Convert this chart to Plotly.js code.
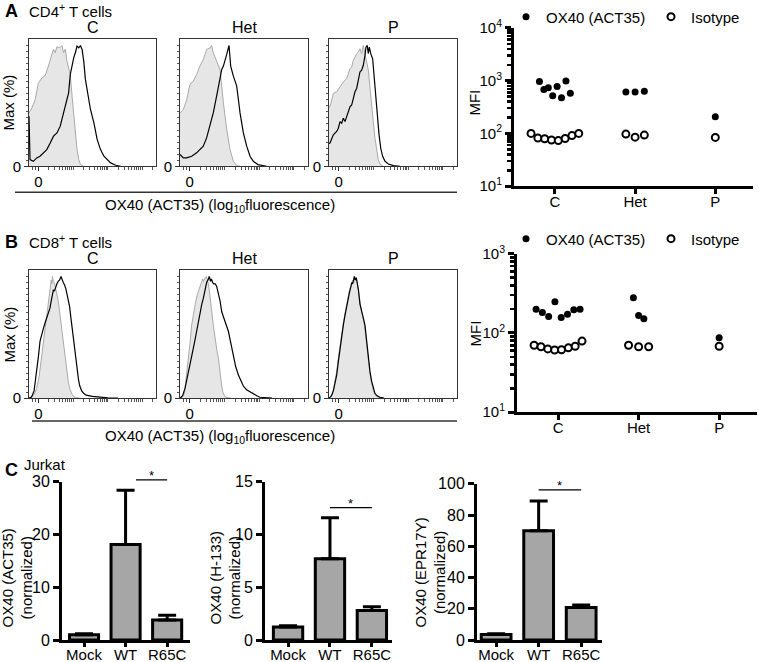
<!DOCTYPE html>
<html>
<head>
<meta charset="utf-8">
<script src="https://cdn.plot.ly/plotly-3.0.1.min.js"></script>
<style>
  body { margin: 0; background: #fff; }
  #chart { width: 759px; height: 662px; }
</style>
</head>
<body>
<div id="chart"></div>
<script>
// ---- flow histograms: x = position along the display axis (0-100), y = % of max ----
// CD4+ T cells
const cd4C_isoX = [0, 2.1, 4.8, 7.4, 10.1, 12.7, 15.3, 18, 19.3, 20.6, 22, 24, 25.9, 27.2, 28.6, 29.9, 31.2, 32.5, 33.9, 35.2, 36.5, 37.8, 39.2, 40.5, 43.1];
const cd4C_isoY = [44, 48, 55, 69, 73, 75, 83, 94, 97, 94, 99, 98, 100, 94, 97, 87, 81, 76, 58, 44, 28, 14, 5.5, 1.4, 0];
const cd4C_oxX = [0, 0.8, 3.4, 6.1, 8.7, 11.4, 14.0, 16.7, 18.0, 19.3, 22.0, 24.6, 27.2, 29.9, 31.2, 32.5, 33.9, 35.2, 36.5, 37.8, 39.2, 40.5, 41.8, 43.1, 44.4, 45.8, 47.1, 48.4, 51.1, 53.7, 56.3, 59, 64.3, 68.3, 72.2];
const cd4C_oxY = [41.5, 5.5, 4.1, 6.9, 8.3, 11.1, 13.8, 19.3, 22.1, 24.9, 27.6, 33.2, 44.2, 55.3, 60.8, 76, 84.3, 89.8, 94, 99.5, 98.1, 100, 96.7, 87, 71.9, 63.6, 55.3, 47, 35.9, 22.1, 13.8, 8.3, 2.8, 0.8, 0];

const cd4Het_isoX = [0, 2.6, 5.2, 7.8, 10.4, 13, 15.6, 18.2, 20.8, 23.4, 24.7, 26, 28.6, 31.3, 33.9, 36.5, 39.1, 41.7, 44.3, 46.9];
const cd4Het_isoY = [44, 47, 55, 68, 70.5, 76, 83, 88.5, 96.7, 98, 100, 94, 87, 80, 52.5, 30.4, 13.8, 4.1, 0.6, 0];
const cd4Het_oxX = [0, 2.6, 5.2, 9.1, 13, 15.6, 18.2, 20.8, 23.4, 26, 28.6, 31.3, 32.6, 33.9, 35.2, 36.5, 38.3, 39.6, 41.7, 43, 44.3, 45.6, 46.9, 49.5, 52.1, 54.7, 57.3, 60.9, 67.7];
const cd4Het_oxY = [9.7, 6.9, 6.9, 8.3, 11.1, 13.8, 16.6, 23.5, 33.2, 44.2, 58, 71.9, 80.2, 82.9, 87, 92.6, 100, 82.9, 74.6, 70.5, 66.3, 55.3, 44.2, 27.6, 16.6, 8.3, 4.1, 1.4, 0];

const cd4P_isoX = [0, 0.8, 3.4, 6, 8.6, 11.2, 13.8, 16.4, 17.7, 19, 21.6, 22.9, 24.2, 25.5, 26.8, 28.1, 29.4, 30.7, 32, 33.3, 34.6, 35.9, 37.2, 38.5, 39.8, 42.4];
const cd4P_isoY = [49, 49.3, 60.3, 61.7, 65.8, 69.9, 72.6, 80.8, 82.2, 87.7, 93.2, 94.5, 97.3, 93.2, 100, 91.8, 86.3, 79.5, 67.1, 53.4, 37, 23.3, 12.3, 5.5, 1.9, 0];
const cd4P_oxX = [0, 0.8, 3.4, 6, 7.3, 8.6, 9.9, 11.2, 12.5, 13.8, 15.1, 16.4, 17.7, 19, 20.3, 21.6, 22.9, 24.2, 25.5, 26.8, 28.1, 28.9, 29.9, 30.7, 31.5, 32.6, 34.1, 35.2, 36.5, 37.8, 39.1, 40.4, 41.9, 43.8, 46.4, 50.3, 55.5];
const cd4P_oxY = [19, 19.2, 26, 28.8, 31.5, 37, 35.6, 39.7, 37, 41.1, 45.2, 49.3, 50.7, 57.5, 61.7, 64.4, 71.2, 78.1, 79.5, 83.6, 91.8, 98.6, 100, 93.2, 98.6, 93.2, 89, 75.4, 56.2, 39.7, 26, 15.1, 8.2, 4.1, 1.9, 0.5, 0];

// CD8+ T cells
const cd8C_isoX = [0, 2, 4, 6, 8, 10, 11, 12, 13, 14, 15, 16, 17, 17.5, 18, 18.5, 19, 20, 21, 22, 23, 24, 25, 26, 27, 28, 29, 30, 31, 32, 33, 34, 35, 37, 40];
const cd8C_isoY = [0, 1, 3, 8, 18, 35, 45, 55, 63, 72, 80, 88, 93, 97, 94, 100, 96, 95, 90, 86, 80, 72, 63, 55, 47, 38, 28, 20, 13, 8, 5, 3, 1.5, 0.5, 0];
const cd8C_oxX = [0, 2, 4, 4.7, 6, 7.5, 8.7, 10, 11.5, 13, 14, 15.5, 16.5, 17.5, 18.5, 19.2, 20, 21, 22, 23, 24, 25.2, 26, 27, 28, 29, 30, 31, 32, 33, 34, 35, 36, 37, 38, 39, 40, 41.5, 43, 45, 50, 56, 62, 70];
const cd8C_oxY = [0, 1, 6, 11, 22, 35, 47, 53, 58, 63, 66, 71, 74, 80, 86, 89, 88, 92, 94, 96, 97, 100, 97, 95, 93, 90, 85, 80, 75, 66, 57, 48, 39, 31, 23, 15, 10, 6, 4, 2.5, 1.5, 0.8, 0.3, 0];

const cd8Het_isoX = [0, 2, 3.5, 5.2, 6.5, 7.8, 9.1, 10.5, 12, 13.5, 15, 16, 17, 17.7, 18.5, 19.5, 20.5, 21.5, 22.5, 23.5, 24.5, 26, 27.5, 29, 30, 31, 32, 32.6, 33.5, 35, 37, 40];
const cd8Het_isoY = [0, 1, 4, 19, 32, 45, 60, 70, 78, 85, 90, 93, 95, 98, 96, 99, 100, 97, 92, 85, 74, 60, 47, 38, 33, 22, 14, 10, 5, 1.5, 0.5, 0];
const cd8Het_oxX = [0, 2, 3.9, 6, 7.5, 9.1, 11, 13, 14.5, 15.6, 17, 18.2, 19.5, 20.8, 21.8, 22.9, 23.8, 24.5, 25.5, 26.5, 27.5, 28.6, 29.5, 30.5, 31.3, 32.6, 34, 35.5, 37.8, 39.5, 41.7, 43.5, 45.6, 47.5, 49.5, 52, 55, 57.3, 60, 62.5, 66, 72];
const cd8Het_oxY = [0, 2, 8, 18, 26, 33, 44, 55, 64, 71, 77, 82, 89, 95, 97, 100, 96, 98, 95, 94, 94, 92, 88, 84, 80, 71, 66, 62, 55, 46, 33, 26, 19, 14, 10, 7, 5, 4, 2, 0.8, 0.3, 0];

const cd8P_isoX = [0, 2, 3.4, 4.7, 6, 7.3, 8.6, 10, 11.2, 12.5, 13.8, 15, 16, 17, 17.8, 18.5, 19.3, 20, 20.7, 21.5, 22.3, 23.2, 24.2, 25.5, 26.8, 28.1, 29.5, 30.7, 32, 33.3, 34.6, 35.9, 37.5, 39.8, 42];
const cd8P_isoY = [0, 2.5, 7, 14, 22, 33, 44, 53, 62, 70, 78, 84, 89, 92, 96, 97, 95, 100, 97, 98, 93, 86, 78, 71, 65, 57, 43, 31, 20, 12, 6, 3, 1.5, 0.5, 0];
const cd8P_oxX = [0, 2, 3.4, 4.7, 6, 7.3, 8.6, 10, 11.2, 12.5, 13.8, 15, 16, 17, 17.8, 18.5, 19.3, 19.8, 20.5, 21.3, 22, 23, 24.2, 25.5, 26.8, 28.1, 29.5, 30.7, 32, 33.3, 34.6, 35.9, 37.5, 39.8, 43];
const cd8P_oxY = [0, 2, 6, 12, 19, 30, 41, 51, 60, 68, 76, 82, 87, 91, 95, 94, 98, 100, 97, 99, 95, 89, 77, 70, 66, 60, 45, 33, 22, 14, 8, 4, 2, 0.8, 0];

// ---- MFI dot plots ----
const mfiGroups = ['C', 'Het', 'P'];
const cd4OxGroup = ['C', 'C', 'C', 'C', 'C', 'C', 'C', 'C', 'Het', 'Het', 'Het', 'P'];
const cd4OxMfi = [960, 680, 735, 515, 775, 473, 985, 576, 610, 610, 630, 206];
const cd4IsoGroup = ['C', 'C', 'C', 'C', 'C', 'C', 'C', 'C', 'Het', 'Het', 'Het', 'P'];
const cd4IsoMfi = [100, 82, 79, 75, 73, 80, 91, 100, 97, 85, 93, 84];
const cd8OxGroup = ['C', 'C', 'C', 'C', 'C', 'C', 'C', 'C', 'Het', 'Het', 'Het', 'P'];
const cd8OxMfi = [200, 181, 162, 249, 157, 173, 196, 200, 279, 166, 151, 87];
const cd8IsoGroup = ['C', 'C', 'C', 'C', 'C', 'C', 'C', 'C', 'Het', 'Het', 'Het', 'P'];
const cd8IsoMfi = [70, 67, 63, 61, 61.5, 65, 68, 79, 70, 67, 67, 68];

// ---- Jurkat bars (mean, SEM) ----
const jurkatGroups = ['Mock', 'WT', 'R65C'];
const act35Mean = [1.0, 18.1, 3.8];
const act35Sem = [0.2, 10.3, 0.9];
const h133Mean = [1.25, 7.7, 2.8];
const h133Sem = [0.1, 3.9, 0.35];
const epr17yMean = [3.6, 70, 20.8];
const epr17ySem = [0.5, 19, 1.7];

// ---------------------------------------------------------------
const W = 759, H = 662;
const fx = p => p / W;        // pixel -> paper x
const fy = p => 1 - p / H;    // pixel -> paper y
const FONT = 'Liberation Sans, Arial, Helvetica, sans-serif';

let traces = [];
let annotations = [];
let shapes = [];
let layout = {
    width: W, height: H,
    margin: { l: 0, r: 0, t: 0, b: 0 },
    paper_bgcolor: '#fff',
    plot_bgcolor: 'rgba(0,0,0,0)',
    font: { family: FONT, size: 15, color: '#000' }
};

function note(x, y, text, opts) {
    annotations.push(Object.assign({
        xref: 'paper', yref: 'paper', x: fx(x), y: fy(y), text: text,
        xanchor: 'center', yanchor: 'middle',
        showarrow: false, font: { size: 15 }
    }, opts || {}));
}

// histograms
const histPanels = [
    [cd4C_isoX, cd4C_isoY, cd4C_oxX, cd4C_oxY],
    [cd4Het_isoX, cd4Het_isoY, cd4Het_oxX, cd4Het_oxY],
    [cd4P_isoX, cd4P_isoY, cd4P_oxX, cd4P_oxY],
    [cd8C_isoX, cd8C_isoY, cd8C_oxX, cd8C_oxY],
    [cd8Het_isoX, cd8Het_isoY, cd8Het_oxX, cd8Het_oxY],
    [cd8P_isoX, cd8P_isoY, cd8P_oxX, cd8P_oxY]
];
const histCols = [[29, 156], [180, 308], [329, 457]];
const histRows = [[36, 164], [268, 397]];

// display-axis ticks: "0" labelled, decades and log steps unlabelled
const zeroPos = 7.5;
const decadePos = [7.5, 35, 62, 89];
let histMinor = [2.5, 5];
decadePos.forEach(d => {
    for (let k = 1; k <= 9; k++) {
        let v = d + 27 * Math.log10(k);
        if (v < 100 && v !== zeroPos) histMinor.push(v);
    }
});
let pctMinor = [];
for (let v = 5; v <= 100; v += 5) pctMinor.push(v);

histPanels.forEach((p, i) => {
    let n = i + 1;
    let sx = n === 1 ? '' : n;
    let bx = histCols[i % 3], by = histRows[Math.floor(i / 3)];
    traces.push({
        x: p[0], y: p[1], xaxis: 'x' + sx, yaxis: 'y' + sx,
        mode: 'lines', fill: 'tozeroy', fillcolor: '#e6e6e6',
        line: { color: '#a9a9a9', width: 1 }, showlegend: false, hoverinfo: 'skip'
    });
    traces.push({
        x: p[2], y: p[3], xaxis: 'x' + sx, yaxis: 'y' + sx,
        mode: 'lines', line: { color: '#000', width: 1.2 },
        showlegend: false, hoverinfo: 'skip'
    });
    layout['xaxis' + sx] = {
        domain: [fx(bx[0]), fx(bx[1])], anchor: 'y' + sx, range: [0, 100],
        showline: true, mirror: true, linecolor: '#333', linewidth: 1,
        ticks: 'outside', ticklen: 4, tickcolor: '#333', tickwidth: 1,
        tickvals: [zeroPos], ticktext: ['0'], ticklabelstandoff: -2,
        minor: { ticks: 'outside', ticklen: 2.5, tickcolor: '#555', tickvals: histMinor },
        showgrid: false, zeroline: false, fixedrange: true, tickfont: { size: 15 }
    };
    layout['yaxis' + sx] = {
        domain: [fy(by[1]), fy(by[0])], anchor: 'x' + sx, range: [0, 105.5],
        showline: true, mirror: true, linecolor: '#333', linewidth: 1,
        ticks: 'outside', ticklen: 4, tickcolor: '#333', tickwidth: 1,
        tickvals: [0], ticktext: ['0'],
        minor: { ticks: 'outside', ticklen: 2.5, tickcolor: '#555', tickvals: pctMinor },
        showgrid: false, zeroline: false, fixedrange: true, tickfont: { size: 15 }
    };
});

// dot plots: points of a group sit side by side in listed order
function spreadX(groups, step) {
    return groups.map((g, i) => {
        let members = [];
        groups.forEach((h, j) => { if (h === g) members.push(j); });
        let k = members.indexOf(i);
        return mfiGroups.indexOf(g) + (k - (members.length - 1) / 2) * step[g];
    });
}

const filled = { color: '#000', size: 7 };
const open = { color: '#fff', size: 7, line: { color: '#000', width: 2 } };

traces.push({ x: spreadX(cd4OxGroup, { C: 0.055, Het: 0.115, P: 0 }), y: cd4OxMfi, xaxis: 'x7', yaxis: 'y7',
    mode: 'markers', marker: filled, name: 'OX40 (ACT35)', legend: 'legend', hoverinfo: 'skip' });
traces.push({ x: spreadX(cd4IsoGroup, { C: 0.085, Het: 0.115, P: 0 }), y: cd4IsoMfi, xaxis: 'x7', yaxis: 'y7',
    mode: 'markers', marker: open, name: 'Isotype', legend: 'legend2', hoverinfo: 'skip' });
traces.push({ x: spreadX(cd8OxGroup, { C: 0.078, Het: 0.065, P: 0 }), y: cd8OxMfi, xaxis: 'x8', yaxis: 'y8',
    mode: 'markers', marker: filled, name: 'OX40 (ACT35)', legend: 'legend3', hoverinfo: 'skip' });
traces.push({ x: spreadX(cd8IsoGroup, { C: 0.085, Het: 0.125, P: 0 }), y: cd8IsoMfi, xaxis: 'x8', yaxis: 'y8',
    mode: 'markers', marker: open, name: 'Isotype', legend: 'legend4', hoverinfo: 'skip' });

function logTicks(top) {
    let major = [], minor = [];
    for (let e = 1; e <= top; e++) major.push(Math.pow(10, e));
    for (let e = 1; e < top; e++) for (let k = 2; k <= 9; k++) minor.push(k * Math.pow(10, e));
    return { major: major, minor: minor };
}
function mfiAxes(sx, xpx, ypx, top) {
    let t = logTicks(top);
    layout['xaxis' + sx] = {
        domain: [fx(xpx[0]), fx(xpx[1])], anchor: 'y' + sx, range: [-0.51, 2.47],
        showline: true, linewidth: 3, linecolor: '#000',
        ticks: 'outside', ticklen: 5, tickwidth: 3, tickcolor: '#000', ticklabelstandoff: -5,
        tickvals: [0, 1, 2], ticktext: mfiGroups,
        showgrid: false, zeroline: false, fixedrange: true, tickfont: { size: 15 }
    };
    layout['yaxis' + sx] = {
        domain: [fy(ypx[1]), fy(ypx[0])], anchor: 'x' + sx, type: 'log', range: [1, top],
        showline: true, linewidth: 3, linecolor: '#000',
        ticks: 'outside', ticklen: 6, tickwidth: 3, tickcolor: '#000',
        tickvals: t.major, ticktext: t.major.map(v => '10<sup>' + Math.round(Math.log10(v)) + '</sup>'),
        minor: { ticks: 'outside', ticklen: 4, tickwidth: 2.5, tickcolor: '#000', tickvals: t.minor },
        showgrid: false, zeroline: false, fixedrange: true, tickfont: { size: 15 }
    };
}
mfiAxes(7, [514, 753], [25, 184], 4);
mfiAxes(8, [517, 757], [252, 411], 3);

const legendStyle = { xanchor: 'left', yanchor: 'middle', orientation: 'h', font: { size: 15 },
    bgcolor: 'rgba(0,0,0,0)', itemwidth: 30, tracegroupgap: 0 };
layout.legend = Object.assign({ x: fx(506), y: fy(14) }, legendStyle);
layout.legend2 = Object.assign({ x: fx(651), y: fy(14) }, legendStyle);
layout.legend3 = Object.assign({ x: fx(506), y: fy(237) }, legendStyle);
layout.legend4 = Object.assign({ x: fx(651), y: fy(237) }, legendStyle);

// Jurkat bar charts
const barPanels = [
    { mean: act35Mean, sem: act35Sem, xpx: [62, 190], ypx: [481, 640], xr: [-0.53, 2.55], yr: [0, 30], dtick: 10,
      title: 'OX40 (ACT35)<br>(normalized)', tx: 17, ty: 578, sig: [1.25, 2], sigY: 479 },
    { mean: h133Mean, sem: h133Sem, xpx: [265, 392], ypx: [481, 640], xr: [-0.55, 2.48], yr: [0, 15], dtick: 5,
      title: 'OX40 (H-133)<br>(normalized)', tx: 225, ty: 578, sig: [1, 2], sigY: 507 },
    { mean: epr17yMean, sem: epr17ySem, xpx: [477, 602], ypx: [483, 640], xr: [-0.45, 2.49], yr: [0, 100], dtick: 20,
      title: 'OX40 (EPR17Y)<br>(normalized)', tx: 430, ty: 572, sig: [1, 2], sigY: 489 }
];
barPanels.forEach((b, i) => {
    let n = 9 + i;
    traces.push({
        type: 'bar', x: jurkatGroups, y: b.mean, xaxis: 'x' + n, yaxis: 'y' + n, width: 0.7,
        marker: { color: '#a6a6a6', line: { color: '#000', width: 3 } },
        error_y: { type: 'data', symmetric: false, array: b.sem, arrayminus: b.sem.map(() => 0),
                   color: '#000', thickness: 3, width: 9 },
        showlegend: false, hoverinfo: 'skip'
    });
    layout['xaxis' + n] = {
        domain: [fx(b.xpx[0]), fx(b.xpx[1])], anchor: 'y' + n, type: 'category', range: b.xr,
        showline: true, linewidth: 3, linecolor: '#000',
        ticks: 'outside', ticklen: 4, tickwidth: 3, tickcolor: '#000', ticklabelstandoff: -5,
        showgrid: false, zeroline: false, fixedrange: true, tickfont: { size: 15 }
    };
    layout['yaxis' + n] = {
        domain: [fy(b.ypx[1]), fy(b.ypx[0])], anchor: 'x' + n, range: b.yr, dtick: b.dtick,
        showline: true, linewidth: 3, linecolor: '#000',
        ticks: 'outside', ticklen: 6, tickwidth: 3, tickcolor: '#000',
        showgrid: false, zeroline: false, fixedrange: true, tickfont: { size: 16 }
    };
    note(b.tx, b.ty, b.title, { textangle: -90 });
    shapes.push({ type: 'line', xref: 'x' + n, yref: 'paper', x0: b.sig[0], x1: b.sig[1],
        y0: fy(b.sigY), y1: fy(b.sigY), line: { color: '#000', width: 1.2 } });
    annotations.push({ xref: 'x' + n, yref: 'paper', x: (b.sig[0] + b.sig[1]) / 2, y: fy(b.sigY - 4),
        text: '*', showarrow: false, font: { size: 13 }, xanchor: 'center', yanchor: 'middle' });
});

// panel text
note(3, 8, '<b>A</b>', { xanchor: 'left', font: { size: 18 } });
note(27, 8, 'CD4<sup>+</sup> T cells', { xanchor: 'left' });
note(3, 240, '<b>B</b>', { xanchor: 'left', font: { size: 18 } });
note(27, 240, 'CD8<sup>+</sup> T cells', { xanchor: 'left' });
note(3, 469, '<b>C</b>', { xanchor: 'left', font: { size: 18 } });
note(22, 464, 'Jurkat', { xanchor: 'left' });

mfiGroups.forEach((g, i) => {
    let c = (histCols[i][0] + histCols[i][1]) / 2;
    note(c, 25, g, { font: { size: 16 } });
    note(c, 257, g, { font: { size: 16 } });
});
note(9, 100, 'Max (%)', { textangle: -90 });
note(9, 333, 'Max (%)', { textangle: -90 });
note(220, 203, 'OX40 (ACT35) (log<sub>10</sub>fluorescence)');
note(220, 435, 'OX40 (ACT35) (log<sub>10</sub>fluorescence)');
shapes.push({ type: 'line', xref: 'paper', yref: 'paper', x0: fx(15), x1: fx(457), y0: fy(190), y1: fy(190), line: { color: '#333', width: 1.5 } });
shapes.push({ type: 'line', xref: 'paper', yref: 'paper', x0: fx(32), x1: fx(457), y0: fy(420), y1: fy(420), line: { color: '#333', width: 1.5 } });
note(475, 100, 'MFI', { textangle: -90 });
note(475, 332, 'MFI', { textangle: -90 });

layout.annotations = annotations;
layout.shapes = shapes;

Plotly.newPlot('chart', traces, layout, { displayModeBar: false, staticPlot: true });
</script>
</body>
</html>
